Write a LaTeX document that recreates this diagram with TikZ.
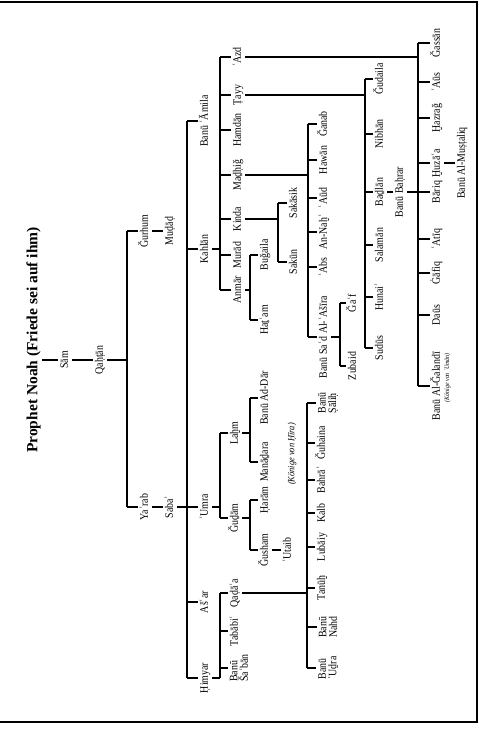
\documentclass[tikz,border=0pt]{standalone}
\usepackage{fontspec}
\setmainfont{Liberation Serif}
\newfontfamily\narrowfont[FakeStretch=0.87]{Liberation Serif}
\begin{document}
\begin{tikzpicture}[x=1pt,y=-1pt,
  lbl/.style={rotate=90,font=\narrowfont\fontsize{11.4}{11.5}\selectfont,text height=8pt,text depth=2.3pt,inner xsep=1pt,inner ysep=2pt},
  lbltwo/.style={rotate=90,font=\narrowfont\fontsize{11.4}{10.5}\selectfont,align=left,inner xsep=1pt,inner ysep=2pt},
  note/.style={rotate=90,font=\narrowfont\itshape\fontsize{9.6}{9.6}\selectfont,inner sep=0pt},
  conn/.style={line width=1.25pt}]
\useasboundingbox (0,0) rectangle (479,745);
\draw[line width=1.2pt] (-3,2) rectangle (477,722);

% title and top chain
\node[rotate=90,font=\bfseries\fontsize{15.5}{16}\selectfont,inner sep=1pt] (title) at (33.5,340) {Prophet Noah (Friede sei auf ihm)};
\node[lbl] (sam) at (65,360) {Sām};
\node[lbl] (qahtan) at (100,360) {Qaḥṭān};
\draw[conn] (sam.north -| title.south) -- (sam.north);
\draw[conn] (sam.south) -- (qahtan.north);

% Qahtan -> Gurhum, Yarab
\coordinate (b1) at (127,0);
\node[lbl] (gurhum) at (145,231) {Ǧurhum};
\node[lbl] (mudad) at (170,231) {Muḍāḍ};
\node[lbl] (yarab) at (145,507) {Yaʿrab};
\node[lbl] (saba) at (170,507) {Sabaʾ};
\draw[conn] (qahtan.south) -- (qahtan.south -| b1);
\draw[conn] (gurhum.north -| b1) -- (yarab.north -| b1);
\foreach \c in {gurhum,yarab} \draw[conn] (\c.north -| b1) -- (\c.north);
\draw[conn] (gurhum.south) -- (mudad.north);
\draw[conn] (yarab.south) -- (saba.north);

% Saba -> five
\coordinate (b2) at (187,0);
\node[lbl] (amila) at (205,121) {Banū ʿĀmila};
\node[lbl] (kahlan) at (205,249) {Kahlān};
\node[lbl] (umra) at (205,507) {ʿUmra};
\node[lbl] (ashar) at (205,602) {Ašʿar};
\node[lbl] (himyar) at (205,678) {Ḥimyar};
\draw[conn] (saba.south) -- (saba.south -| b2);
\draw[conn] (amila.north -| b2) -- (himyar.north -| b2);
\foreach \c in {amila,kahlan,umra,ashar,himyar} \draw[conn] (\c.north -| b2) -- (\c.north);

% Kahlan
\coordinate (bK) at (220,0);
\node[lbl] (azd) at (238,57) {ʿAzd};
\node[lbl] (tayy) at (238,95) {Ṭayy};
\node[lbl] (hamdan) at (238,130) {Hamdān};
\node[lbl] (madhij) at (238,175) {Maḏḥiǧ};
\node[lbl] (kinda) at (238,219) {Kinda};
\node[lbl] (murad) at (238,255) {Murād};
\node[lbl] (anmar) at (238,290) {Anmār};
\draw[conn] (kahlan.south) -- (kahlan.south -| bK);
\draw[conn] (azd.north -| bK) -- (anmar.north -| bK);
\foreach \c in {azd,tayy,hamdan,madhij,kinda,murad,anmar} \draw[conn] (\c.north -| bK) -- (\c.north);

% Umra
\coordinate (bU) at (220,0);
\node[lbl] (lahm) at (235,433) {Laḫm};
\node[lbl] (gudam) at (235,518) {Ǧuḏām};
\draw[conn] (umra.south) -- (umra.south -| bU);
\draw[conn] (lahm.north -| bU) -- (gudam.north -| bU);
\foreach \c in {lahm,gudam} \draw[conn] (\c.north -| bU) -- (\c.north);

\coordinate (bL) at (250,0);
\node[lbl] (addar) at (265,398) {Banū Ad-Dār};
\node[lbl] (manadara) at (265,462) {Manāḏara};
\node[note] (hira) at (292,454) {(Könige von Ḥīra)};
\draw[conn] (lahm.south) -- (lahm.south -| bL);
\draw[conn] (addar.north -| bL) -- (manadara.north -| bL);
\foreach \c in {addar,manadara} \draw[conn] (\c.north -| bL) -- (\c.north);

\coordinate (bG) at (250,0);
\node[lbl] (haram) at (265,500) {Ḥarām};
\node[lbl] (gusham) at (265,550) {Ǧusham};
\node[lbl] (utaib) at (288,550) {ʿUtaib};
\draw[conn] (gudam.south) -- (gudam.south -| bG);
\draw[conn] (haram.north -| bG) -- (gusham.north -| bG);
\foreach \c in {haram,gusham} \draw[conn] (\c.north -| bG) -- (\c.north);
\draw[conn] (gusham.south) -- (utaib.north);

% Himyar
\coordinate (bH) at (220,0);
\node[lbl] (qudaa) at (235,593) {Qaḍāʿa};
\node[lbl] (tababi) at (235,631) {Tabābiʿ};
\node[lbltwo] (shaban) at (239,668) {Banū\\Šaʿbān};
\draw[conn] (himyar.south) -- (himyar.south -| bH);
\draw[conn] (qudaa.north -| bH) -- (himyar.south -| bH);
\foreach \c in {qudaa,tababi,shaban} \draw[conn] (\c.north -| bH) -- (\c.north);

% Qudaa
\coordinate (bQ) at (307,0);
\node[lbltwo] (salih) at (328,403) {Banū\\Ṣāliḥ};
\node[lbl] (guhaina) at (322,443) {Ǧuhaina};
\node[lbl] (bahra) at (322,480) {Bahrāʾ};
\node[lbl] (kalb) at (322,513) {Kalb};
\node[lbl] (lubaiy) at (322,547) {Lubāiy};
\node[lbl] (tanuh) at (322,588) {Tanūḫ};
\node[lbltwo] (nahd) at (328,627) {Banū\\Nahd};
\node[lbltwo] (udra) at (328,668) {Banū\\ʿUḏra};
\draw[conn] (qudaa.south) -- (qudaa.south -| bQ);
\draw[conn] (salih.north -| bQ) -- (udra.north -| bQ);
\foreach \c in {salih,guhaina,bahra,kalb,lubaiy,tanuh,nahd,udra} \draw[conn] (\c.north -| bQ) -- (\c.north);

% Kinda
\coordinate (bKi) at (278,0);
\node[lbl] (sakasik) at (294,203) {Sakāsik};
\node[lbl] (sakun) at (294,262) {Sakūn};
\draw[conn] (kinda.south) -- (kinda.south -| bKi);
\draw[conn] (sakasik.north -| bKi) -- (sakun.north -| bKi);
\foreach \c in {sakasik,sakun} \draw[conn] (\c.north -| bKi) -- (\c.north);

% Anmar
\coordinate (bAn) at (250,0);
\node[lbl] (bugaila) at (265,255) {Buǧaila};
\node[lbl] (hatam) at (265,320) {Haṯʿam};
\draw[conn] (anmar.south) -- (anmar.south -| bAn);
\draw[conn] (bugaila.north -| bAn) -- (hatam.north -| bAn);
\foreach \c in {bugaila,hatam} \draw[conn] (\c.north -| bAn) -- (\c.north);

% Madhij
\coordinate (bM) at (308,0);
\node[lbl] (ganab) at (324,124) {Ǧanab};
\node[lbl] (hawan) at (324,160) {Hawān};
\node[lbl] (aud) at (324,198) {ʿAūd};
\node[lbl] (nah) at (324,232) {An-Naḫʿ};
\node[lbl] (abs) at (324,267) {ʿAbs};
\node[lbl] (sad) at (324,337) {Banū Saʿd Al-ʿAšīra};
\draw[conn] (madhij.south) -- (madhij.south -| bM);
\draw[conn] (ganab.north -| bM) -- (sad.north -| bM);
\foreach \c in {ganab,hawan,aud,nah,abs,sad} \draw[conn] (\c.north -| bM) -- (\c.north);

\coordinate (bS) at (340,0);
\node[lbl] (gaf) at (353,303) {Ǧaʿf};
\node[lbl] (zubaid) at (353,366) {Zubaid};
\draw[conn] (sad.south) -- (sad.south -| bS);
\draw[conn] (gaf.north -| bS) -- (zubaid.north -| bS);
\foreach \c in {gaf,zubaid} \draw[conn] (\c.north -| bS) -- (\c.north);

% Tayy
\coordinate (bT) at (365,0);
\node[lbl] (gudaila) at (380,79) {Ǧudaila};
\node[lbl] (nibhan) at (380,134) {Nibhān};
\node[lbl] (badlan) at (380,192) {Baḏlān};
\node[lbl] (salaman) at (380,245) {Salamān};
\node[lbl] (hunai) at (380,297) {Hunaiʾ};
\node[lbl] (sudus) at (380,348) {Sudūs};
\node[lbl] (bahrar) at (400,192) {Banū Baḥrar};
\draw[conn] (tayy.south) -- (tayy.south -| bT);
\draw[conn] (gudaila.north -| bT) -- (sudus.north -| bT);
\foreach \c in {gudaila,nibhan,badlan,salaman,hunai,sudus} \draw[conn] (\c.north -| bT) -- (\c.north);
\draw[conn] (badlan.south) -- (bahrar.north);

% Azd
\coordinate (bA) at (418,0);
\node[lbl] (gassan) at (437,43) {Ǧassān};
\node[lbl] (aus) at (437,82) {ʿAūs};
\node[lbl] (hazrag) at (437,118) {Ḫazraǧ};
\node[lbl] (huzaa) at (437,163) {Ḫuzāʿa};
\node[lbl] (bariq) at (437,192) {Bāriq};
\node[lbl] (atiq) at (437,239) {ʿAtīq};
\node[lbl] (gafiq) at (437,273) {Ġāfiq};
\node[lbl] (daus) at (437,315) {Daūs};
\node[lbl] (galandi) at (437,386) {Banū Al-Ǧalandī};
\node[rotate=90,anchor=east,font=\narrowfont\itshape\fontsize{6.8}{6.8}\selectfont,inner sep=0pt] (uman) at (447.5,353) {(Könige von ʿUmān)};
\node[lbl] (mustaliq) at (462,163) {Banū Al-Muṣṭaliq};
\draw[conn] (azd.south) -- (azd.south -| bA);
\draw[conn] (gassan.north -| bA) -- (galandi.north -| bA);
\foreach \c in {gassan,aus,hazrag,huzaa,bariq,atiq,gafiq,daus,galandi} \draw[conn] (\c.north -| bA) -- (\c.north);
\draw[conn] (bahrar.south) -- (bahrar.south -| bA);
\draw[conn] (huzaa.south) -- (mustaliq.north);
\end{tikzpicture}
\end{document}
